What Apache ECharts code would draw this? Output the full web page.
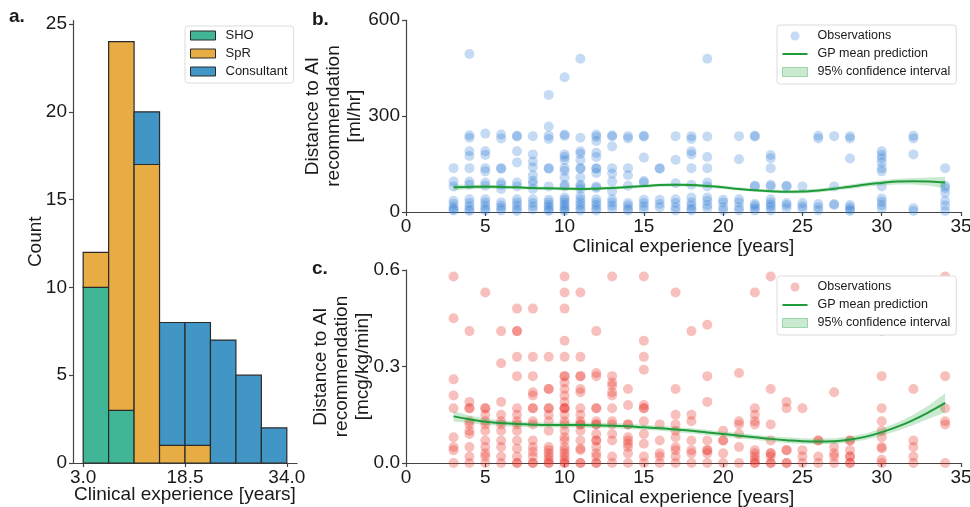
<!DOCTYPE html>
<html>
<head>
<meta charset="utf-8">
<title>Clinical experience vs distance to AI recommendation</title>
<script src="https://cdn.jsdelivr.net/npm/echarts@6/dist/echarts.min.js"></script>
<style>
  html, body { margin: 0; padding: 0; background: #fff; }
  #chart { width: 970px; height: 507px; }
</style>
</head>
<body>
<div id="chart"></div>
<script>
// ---- panel a: histogram of clinical experience, stacked by grade ----
const binEdges = [3, 6.875, 10.75, 14.625, 18.5, 22.375, 26.25, 30.125, 34]
const shoCounts = [10, 3, 0, 0, 0, 0, 0, 0]
const sprCounts = [2, 21, 17, 1, 1, 0, 0, 0]
const consultantCounts = [0, 0, 3, 7, 7, 7, 5, 2]
const histTicks = [3.0, 18.5, 34.0]
const countTicks = [0, 5, 10, 15, 20, 25]

// ---- panels b / c: observations per year of experience ----
const obsYears = [3, 4, 5, 6, 7, 8, 9, 10, 11, 12, 13, 14, 15, 16, 17, 18, 19, 20, 21, 22, 23, 24, 25, 26, 27, 28, 30, 32, 34]

// distance to AI recommendation, ml/hr (one list per year above)
const flowObs = [
  [137, 95, 80, 35, 25, 15, 8, 5],
  [494, 240, 232, 190, 175, 137, 95, 85, 40, 28, 18, 8, 3],
  [245, 190, 178, 137, 127, 92, 82, 40, 30, 20, 10, 5],
  [242, 230, 137, 135, 92, 85, 72, 30, 20, 12, 5],
  [238, 236, 190, 155, 92, 80, 40, 30, 20, 10, 3],
  [237, 180, 158, 140, 115, 98, 88, 72, 40, 28, 18, 8],
  [366, 267, 238, 228, 137, 135, 80, 38, 30, 22, 15, 8, 3],
  [421, 242, 238, 180, 172, 162, 137, 128, 108, 85, 80, 45, 38, 30, 22, 15, 8, 3],
  [479, 232, 190, 182, 162, 137, 135, 108, 85, 80, 72, 50, 40, 30, 22, 12, 5],
  [242, 235, 222, 185, 172, 137, 135, 122, 80, 75, 40, 30, 22, 12, 5],
  [240, 236, 205, 137, 120, 95, 65, 40, 30, 20, 10],
  [237, 230, 137, 115, 82, 28, 20, 10, 5],
  [238, 236, 170, 97, 92, 38, 28, 18, 8],
  [137, 135, 38, 25, 15],
  [237, 163, 90, 40, 28, 15, 5],
  [237, 228, 190, 180, 137, 85, 45, 30, 20, 10, 5],
  [479, 236, 172, 137, 92, 80, 45, 35, 22, 12],
  [38, 30, 15, 5],
  [237, 165, 40, 30, 15, 5],
  [238, 236, 82, 80, 25, 20, 12, 5],
  [178, 168, 137, 85, 80, 40, 30, 22, 15, 5],
  [82, 80, 28, 22, 12],
  [80, 28, 18, 10],
  [238, 230, 25, 15, 5],
  [237, 80, 25, 22],
  [237, 230, 167, 22, 15, 8, 3],
  [190, 178, 168, 155, 137, 127, 80, 42, 32, 22, 12],
  [238, 230, 180, 12, 3],
  [137, 82, 75, 60, 35, 20, 3]
]

// distance to AI recommendation, mcg/kg/min
const doseObs = [
  [0.58, 0.45, 0.26, 0.21, 0.17, 0.08, 0.05, 0.04, 0.0],
  [0.41, 0.19, 0.17, 0.17, 0.13, 0.12, 0.10, 0.09, 0.05, 0.02, 0.0],
  [0.53, 0.17, 0.17, 0.15, 0.13, 0.12, 0.10, 0.07, 0.05, 0.03, 0.02, 0.0],
  [0.41, 0.31, 0.19, 0.15, 0.13, 0.12, 0.10, 0.07, 0.05, 0.02, 0.0],
  [0.48, 0.41, 0.41, 0.33, 0.27, 0.17, 0.15, 0.13, 0.12, 0.10, 0.07, 0.045, 0.02, 0.0, 0.0],
  [0.48, 0.33, 0.27, 0.22, 0.21, 0.17, 0.17, 0.13, 0.12, 0.07, 0.05, 0.035, 0.02, 0.0, 0.0],
  [0.33, 0.23, 0.23, 0.17, 0.17, 0.15, 0.13, 0.10, 0.05, 0.04, 0.03, 0.02, 0.01, 0.0, 0.0],
  [0.58, 0.53, 0.48, 0.38, 0.33, 0.27, 0.27, 0.25, 0.23, 0.21, 0.19, 0.17, 0.17, 0.17, 0.15, 0.13, 0.12, 0.10, 0.08, 0.07, 0.05, 0.04, 0.03, 0.02, 0.01, 0.0, 0.0],
  [0.53, 0.33, 0.27, 0.27, 0.23, 0.22, 0.17, 0.15, 0.13, 0.12, 0.12, 0.10, 0.07, 0.045, 0.04, 0.0, 0.0],
  [0.41, 0.28, 0.27, 0.17, 0.17, 0.13, 0.12, 0.12, 0.09, 0.07, 0.07, 0.05, 0.03, 0.02, 0.0, 0.0],
  [0.58, 0.27, 0.25, 0.24, 0.22, 0.21, 0.17, 0.13, 0.12, 0.09, 0.07, 0.02, 0.0],
  [0.23, 0.18, 0.12, 0.12, 0.08, 0.07, 0.06, 0.05, 0.03, 0.0],
  [0.58, 0.38, 0.33, 0.29, 0.18, 0.17, 0.17, 0.13, 0.09, 0.06, 0.02, 0.0],
  [0.12, 0.07, 0.03, 0.02, 0.0],
  [0.53, 0.23, 0.15, 0.12, 0.10, 0.08, 0.05, 0.04, 0.02, 0.0],
  [0.41, 0.15, 0.13, 0.07, 0.04, 0.03, 0.0],
  [0.43, 0.27, 0.19, 0.07, 0.04, 0.04, 0.03, 0.0],
  [0.10, 0.07, 0.07, 0.03, 0.0],
  [0.28, 0.13, 0.12, 0.09, 0.05, 0.0],
  [0.53, 0.17, 0.15, 0.13, 0.12, 0.04, 0.03, 0.02, 0.01, 0.0, 0.0],
  [0.58, 0.23, 0.12, 0.07, 0.03, 0.03, 0.02, 0.0, 0.0],
  [0.19, 0.17, 0.04, 0.04, 0.0, 0.0],
  [0.53, 0.17, 0.04, 0.02, 0.0],
  [0.43, 0.07, 0.07, 0.02, 0.0],
  [0.22, 0.05, 0.03, 0.02, 0.0],
  [0.07, 0.07, 0.04, 0.02, 0.02, 0.0, 0.0],
  [0.41, 0.27, 0.17, 0.13, 0.10, 0.08, 0.05, 0.045, 0.01, 0.0],
  [0.23, 0.07, 0.05, 0.02, 0.0],
  [0.58, 0.27, 0.17, 0.13, 0.12, 0.0]
]

// GP fit (mean and half width of the 95% band)
const gpYears = [3, 4, 5, 6, 7, 8, 9, 10, 11, 12, 13, 14, 15, 16, 17, 18, 19, 20, 21, 22, 23, 24, 25, 26, 27, 28, 29, 30, 31, 32, 33, 34]
const flowGpMean = [77, 78, 79, 78, 77, 75, 74, 73, 72, 73, 75, 78, 81, 84, 85, 84, 81, 77, 72, 68, 65, 63, 64, 67, 73, 79, 86, 91, 95, 96, 95, 92]
const flowGpHalf = [9, 7, 6, 5, 5, 5, 5, 5, 5, 5, 5, 5, 5, 5, 5, 5, 5, 5, 5, 5, 5, 5, 6, 6, 6, 7, 7, 8, 9, 10, 13, 18]
const doseGpMean = [0.145, 0.136, 0.128, 0.124, 0.121, 0.119, 0.118, 0.118, 0.118, 0.117, 0.116, 0.114, 0.111, 0.108, 0.104, 0.100, 0.095, 0.090, 0.085, 0.080, 0.075, 0.071, 0.068, 0.067, 0.068, 0.073, 0.082, 0.096, 0.113, 0.134, 0.159, 0.187]
const doseGpHalf = [0.016, 0.012, 0.010, 0.009, 0.008, 0.008, 0.008, 0.008, 0.008, 0.008, 0.008, 0.008, 0.008, 0.008, 0.008, 0.008, 0.008, 0.008, 0.008, 0.008, 0.008, 0.009, 0.009, 0.009, 0.009, 0.009, 0.010, 0.011, 0.013, 0.016, 0.021, 0.030]

const yearTicks = [0, 5, 10, 15, 20, 25, 30, 35]
const flowTicks = [0, 300, 600]
const doseTicks = [0, 0.3, 0.6]

// ---- styling ----
const FONT = '"Liberation Sans", Arial, sans-serif'
const INK = '#1a1a1a'
const AXIS = '#444'
const shoColor = '#41b696'
const sprColor = '#e7ac44'
const consultantColor = '#4196c6'
const flowColor = 'rgba(40,120,210,0.27)'
const doseColor = 'rgba(232,45,35,0.30)'
const gpLineColor = '#1f9b3a'
const gpBandColor = 'rgba(45,170,75,0.26)'

const chart = echarts.init(document.getElementById('chart'), null, { renderer: 'canvas' })

// histogram rectangles, stacked SHO -> SpR -> Consultant
const running = shoCounts.map(() => 0)
const histSeries = [
  ['SHO', shoCounts, shoColor],
  ['SpR', sprCounts, sprColor],
  ['Consultant', consultantCounts, consultantColor]
].map(([name, counts, color]) => {
  const data = []
  counts.forEach((c, i) => {
    if (c > 0) data.push([binEdges[i], binEdges[i + 1], running[i], running[i] + c])
    running[i] += c
  })
  return {
    type: 'custom',
    name,
    xAxisIndex: 0,
    yAxisIndex: 0,
    itemStyle: { color },
    encode: { x: [0, 1], y: [2, 3] },
    data,
    renderItem: (params, api) => {
      const tl = api.coord([api.value(0), api.value(3)])
      const br = api.coord([api.value(1), api.value(2)])
      return {
        type: 'rect',
        shape: { x: tl[0], y: tl[1], width: br[0] - tl[0], height: br[1] - tl[1] },
        style: { fill: color, stroke: '#2a2a2a', lineWidth: 1.2 }
      }
    }
  }
})

const toPairs = (years, cols) => {
  const out = []
  years.forEach((yr, i) => cols[i].forEach(v => out.push([yr, v])))
  return out
}

const bandSeries = (name, axis, mean, half) => ({
  type: 'custom',
  name,
  xAxisIndex: axis,
  yAxisIndex: axis,
  z: 3,
  itemStyle: { color: gpBandColor },
  data: [[gpYears[0], mean[0]]],
  renderItem: (params, api) => {
    const upper = gpYears.map((x, i) => api.coord([x, mean[i] + half[i]]))
    const lower = gpYears.map((x, i) => api.coord([x, mean[i] - half[i]])).reverse()
    return { type: 'polygon', shape: { points: upper.concat(lower) }, style: { fill: gpBandColor } }
  }
})

const lineSeries = (name, axis, mean) => ({
  type: 'line',
  name,
  xAxisIndex: axis,
  yAxisIndex: axis,
  z: 4,
  smooth: true,
  symbol: 'none',
  lineStyle: { color: gpLineColor, width: 2 },
  itemStyle: { color: gpLineColor },
  data: gpYears.map((x, i) => [x, mean[i]])
})

const scatterSeries = (name, axis, cols, color) => ({
  type: 'scatter',
  name,
  xAxisIndex: axis,
  yAxisIndex: axis,
  z: 2,
  symbolSize: 10,
  itemStyle: { color, opacity: 1 },
  data: toPairs(obsYears, cols)
})

const axisBase = {
  axisLine: { show: true, lineStyle: { color: AXIS, width: 1.2 } },
  axisTick: { show: true, length: 4, lineStyle: { color: AXIS, width: 1.2 } },
  splitLine: { show: false },
  nameLocation: 'middle',
  nameMoveOverlap: false,
  nameTextStyle: { fontFamily: FONT, fontSize: 19, color: INK }
}
const labelBase = { fontFamily: FONT, fontSize: 19, color: INK }

const xAxis = (grid, min, max, ticks, fmt, gap) => Object.assign({}, axisBase, {
  gridIndex: grid,
  type: 'value',
  min,
  max,
  name: 'Clinical experience [years]',
  nameGap: gap,
  axisTick: Object.assign({}, axisBase.axisTick, { customValues: ticks }),
  axisLabel: Object.assign({}, labelBase, { margin: 5, customValues: ticks, formatter: fmt })
})

const yAxis = (grid, min, max, ticks, fmt, name, gap, lineHeight) => Object.assign({}, axisBase, {
  gridIndex: grid,
  type: 'value',
  min,
  max,
  name,
  nameGap: gap,
  nameTextStyle: Object.assign({}, axisBase.nameTextStyle, { lineHeight }),
  axisTick: Object.assign({}, axisBase.axisTick, { customValues: ticks }),
  axisLabel: Object.assign({}, labelBase, { margin: 6, customValues: ticks, formatter: fmt })
})

const legendBase = {
  orient: 'vertical',
  selectedMode: false,
  backgroundColor: '#fff',
  borderColor: '#dcdcdc',
  borderWidth: 1,
  borderRadius: 3,
  itemWidth: 25,
  textStyle: { fontFamily: FONT, fontSize: 12.5, color: INK, padding: [0, 0, 0, 5] },
  formatter: name => name.split('|')[0]
}

const scatterLegend = (tag, top, obsColor) => Object.assign({}, legendBase, {
  left: 777,
  top,
  itemHeight: 9,
  itemGap: 4,
  padding: [4, 6, 5, 5],
  textStyle: Object.assign({}, legendBase.textStyle, { lineHeight: 14 }),
  data: [
    { name: 'Observations' + tag, icon: 'circle', itemStyle: { color: obsColor } },
    { name: 'GP mean prediction' + tag, icon: 'path://M0,0L25,0L25,2L0,2Z', itemStyle: { color: gpLineColor } },
    { name: '95% confidence interval' + tag, icon: 'rect', itemStyle: { color: gpBandColor, borderColor: 'rgba(45,170,75,0.4)', borderWidth: 1 } }
  ]
})

const titleStyle = { fontFamily: FONT, fontSize: 19, fontWeight: 'bold', color: INK }

chart.setOption({
  animation: false,
  backgroundColor: '#fff',
  title: [
    { text: 'a.', left: 9, top: 7, textStyle: titleStyle, padding: 0 },
    { text: 'b.', left: 312, top: 10, textStyle: titleStyle, padding: 0 },
    { text: 'c.', left: 312, top: 259, textStyle: titleStyle, padding: 0 }
  ],
  grid: [
    { left: 73, top: 20.5, width: 224, height: 442.5, outerBoundsMode: 'none' },
    { left: 406, top: 20, width: 555, height: 192, outerBoundsMode: 'none' },
    { left: 406, top: 270, width: 555, height: 193, outerBoundsMode: 'none' }
  ],
  legend: [
    Object.assign({}, legendBase, {
      left: 185,
      top: 26,
      itemHeight: 9,
      itemGap: 5,
      padding: [3, 6, 5, 5],
      textStyle: Object.assign({}, legendBase.textStyle, { fontSize: 13, lineHeight: 13 }),
      data: [
        { name: 'SHO', icon: 'rect', itemStyle: { color: shoColor, borderColor: '#2a2a2a', borderWidth: 1 } },
        { name: 'SpR', icon: 'rect', itemStyle: { color: sprColor, borderColor: '#2a2a2a', borderWidth: 1 } },
        { name: 'Consultant', icon: 'rect', itemStyle: { color: consultantColor, borderColor: '#2a2a2a', borderWidth: 1 } }
      ]
    }),
    scatterLegend('', 25, flowColor),
    scatterLegend('|c', 276, doseColor)
  ],
  xAxis: [
    xAxis(0, 1.45, 35.55, histTicks, v => v.toFixed(1), 22),
    xAxis(1, 0, 35, yearTicks, v => String(v), 25),
    xAxis(2, 0, 35, yearTicks, v => String(v), 25)
  ],
  yAxis: [
    yAxis(0, 0, 25.2, countTicks, v => String(v), 'Count', 28, 19),
    yAxis(1, 0, 600, flowTicks, v => String(v), 'Distance to AI\nrecommendation\n[ml/hr]', 41, 21),
    yAxis(2, 0, 0.6, doseTicks, v => v.toFixed(1), 'Distance to AI\nrecommendation\n[mcg/kg/min]', 33, 21)
  ],
  series: [
    ...histSeries,
    scatterSeries('Observations', 1, flowObs, flowColor),
    bandSeries('95% confidence interval', 1, flowGpMean, flowGpHalf),
    lineSeries('GP mean prediction', 1, flowGpMean),
    scatterSeries('Observations|c', 2, doseObs, doseColor),
    bandSeries('95% confidence interval|c', 2, doseGpMean, doseGpHalf),
    lineSeries('GP mean prediction|c', 2, doseGpMean)
  ]
})
</script>
</body>
</html>
